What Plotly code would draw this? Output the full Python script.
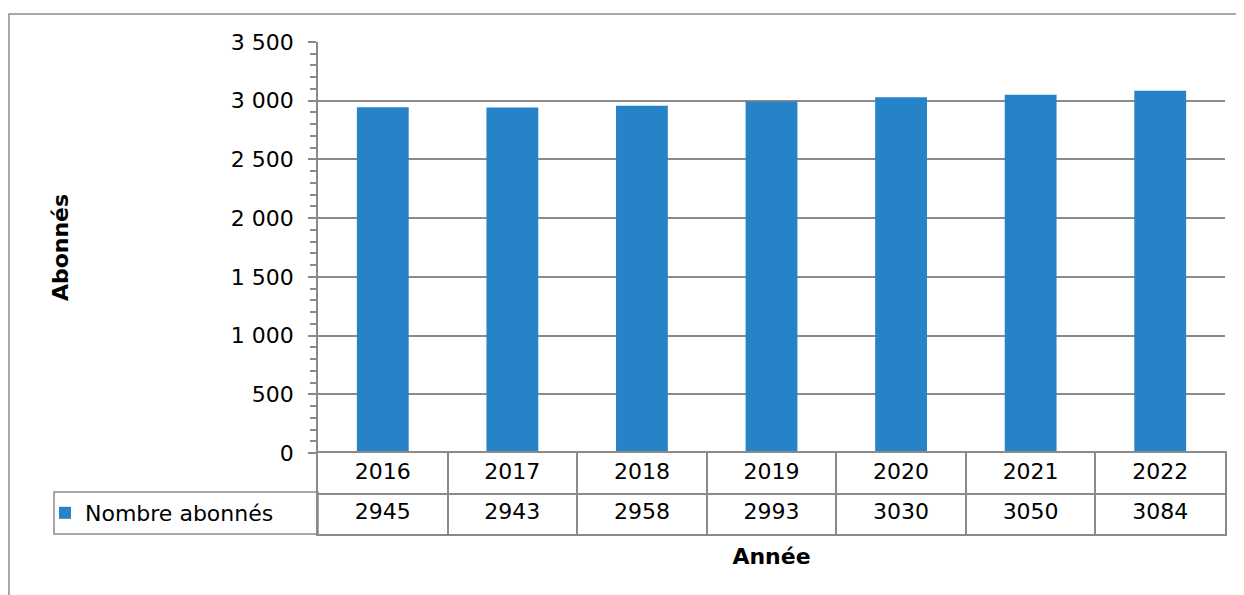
import plotly.graph_objects as go

years = ["2016", "2017", "2018", "2019", "2020", "2021", "2022"]
abonnes = [2945, 2943, 2958, 2993, 3030, 3050, 3084]
series_name = "Nombre abonnés"
y_title = "Abonnés"
x_title = "Année"

W, H = 1244, 595
OFF = 8  # page body margin
BAR = "#2783C7"
GRID = "#8a8a8a"
FONT = "DejaVu Sans"

def px_x(p):
    return (p - OFF) / W

def px_y(p):
    return 1 - (p - OFF) / H

fig = go.Figure()

fig.add_trace(go.Bar(
    x=years, y=abonnes, name=series_name, marker=dict(color=BAR, line=dict(width=0)),
    xaxis="x", yaxis="y", showlegend=True,
))
# data table rows
fig.add_trace(go.Scatter(
    x=years, y=[1.5] * len(years), text=years, mode="text",
    textfont=dict(family=FONT, size=22, color="#000"),
    xaxis="x2", yaxis="y2", showlegend=False, hoverinfo="skip",
))
fig.add_trace(go.Scatter(
    x=years, y=[0.5] * len(years), text=[str(v) for v in abonnes], mode="text",
    textfont=dict(family=FONT, size=22, color="#000"),
    xaxis="x2", yaxis="y2", showlegend=False, hoverinfo="skip",
))

xdom = [px_x(318), px_x(1225)]

fig.update_layout(
    width=W, height=H,
    margin=dict(l=0, r=0, t=0, b=0, autoexpand=False),
    paper_bgcolor="white", plot_bgcolor="white",
    separators=", ",
    font=dict(family=FONT, size=22, color="#000"),
    bargap=0.6,
    xaxis=dict(
        domain=xdom, anchor="y", type="category",
        showticklabels=False, ticks="", showgrid=False, showline=False, zeroline=False,
    ),
    yaxis=dict(
        domain=[px_y(453), px_y(42)], anchor="x", range=[0, 3500],
        dtick=500, tick0=0, tickformat=",d",
        ticks="outside", ticklen=8, tickwidth=1.5, tickcolor=GRID,
        minor=dict(dtick=100, ticks="outside", ticklen=6, tickwidth=1.5, tickcolor=GRID, showgrid=False),
        showgrid=True, gridcolor=GRID, gridwidth=1.5,
        showline=True, linecolor=GRID, linewidth=1.5, zeroline=False,
        tickfont=dict(family=FONT, size=22, color="#000"),
        ticklabelstandoff=10,
        title=dict(text="<b>" + y_title + "</b>", font=dict(family=FONT, size=22, color="#000"), standoff=156),
    ),
    yaxis3=dict(
        overlaying="y", anchor="x", side="left", range=[0, 3500], dtick=500,
        showticklabels=False, ticks="", showgrid=False, showline=False, zeroline=False,
        minor=dict(dtick=100, ticks="inside", ticklen=6, tickwidth=1.5, tickcolor=GRID, showgrid=False),
    ),
    xaxis2=dict(
        domain=xdom, anchor="y2", matches="x", type="category",
        tickson="boundaries", showgrid=True, gridcolor=GRID, gridwidth=1.5,
        showticklabels=False, ticks="",
        showline=True, mirror=True, linecolor=GRID, linewidth=1.5, zeroline=False,
        title=dict(text="<b>" + x_title + "</b>", font=dict(family=FONT, size=22, color="#000"), standoff=14),
    ),
    yaxis2=dict(
        domain=[px_y(534), px_y(453)], anchor="x2", range=[0, 2],
        tickvals=[1], showticklabels=False, ticks="",
        showgrid=True, gridcolor=GRID, gridwidth=1.5,
        showline=True, mirror=True, linecolor=GRID, linewidth=1.5, zeroline=False, fixedrange=True,
    ),
    legend=dict(
        x=px_x(45), xanchor="left", y=px_y(513), yanchor="middle",
        bgcolor="rgba(0,0,0,0)", borderwidth=0,
        font=dict(family=FONT, size=22, color="#000"),
    ),
    showlegend=True,
    shapes=[
        # legend key cell of the data table
        dict(type="rect", xref="paper", yref="paper",
             x0=px_x(54), x1=px_x(318), y0=px_y(534), y1=px_y(492),
             line=dict(color=GRID, width=1.5), layer="below"),
        # chart outer border
        dict(type="rect", xref="paper", yref="paper",
             x0=px_x(9), x1=1.05, y0=-0.05, y1=px_y(14),
             line=dict(color="#8c8c8c", width=1.5), layer="below"),
    ],
)

fig.write_html("out.html")
